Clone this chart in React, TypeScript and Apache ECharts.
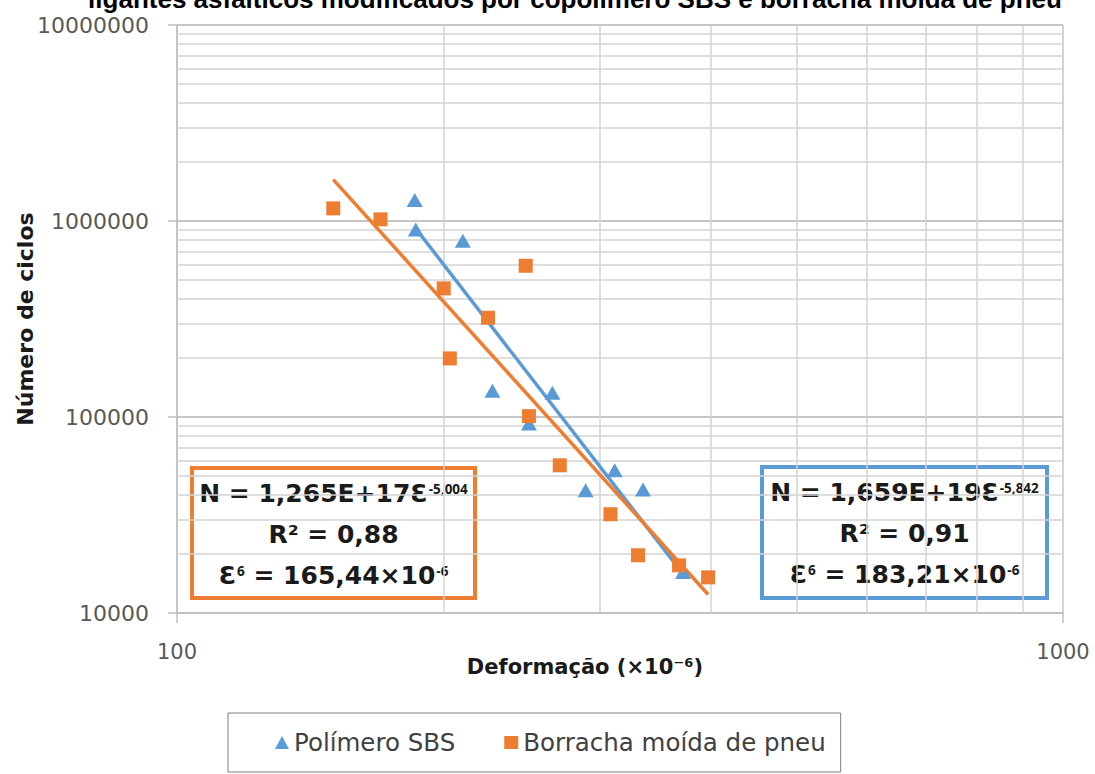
import React, { useEffect, useRef } from "react";
import * as echarts from "echarts";

// Fatigue test results: strain (×10⁻⁶) vs. number of cycles to failure
const SBS_STRAIN = [185.5, 186.0, 210.2, 227.0, 265.3, 249.6, 289.2, 311.9, 335.7, 372.5];
const SBS_CYCLES = [1279000, 906000, 792000, 136000, 133000, 92700, 42300, 53500, 42700, 16200];

const RUBBER_STRAIN = [150.1, 169.7, 247.5, 200.0, 224.4, 203.2, 249.6, 270.4, 308.5, 331.4, 368.7, 397.6];
const RUBBER_CYCLES = [1160000, 1020000, 591000, 453000, 321000, 199000, 101000, 56700, 31900, 19700, 17500, 15200];

// Power-law fits N = a·Ɛ^b, R² and strain at 10⁶ cycles
const SBS_FIT = { a: 1.659e19, b: -5.842, r2: 0.91, eps6: 183.21 };
const RUBBER_FIT = { a: 1.265e17, b: -5.004, r2: 0.88, eps6: 165.44 };

// Axis ranges and minor grid values
const X_RANGE = [100, 1000];
const Y_RANGE = [10000, 10000000];
const X_MINOR = [200, 300, 400, 500, 600, 700, 800, 900];
const Y_MINOR = [
  20000, 30000, 40000, 50000, 60000, 70000, 80000, 90000,
  200000, 300000, 400000, 500000, 600000, 700000, 800000, 900000,
  2000000, 3000000, 4000000, 5000000, 6000000, 7000000, 8000000, 9000000,
];

const SERIES_NAMES = ["Polímero SBS", "Borracha moída de pneu"];
const TITLE = "ligantes asfálticos modificados por copolímero SBS e borracha moída de pneu";

const BLUE = "#5B9BD5";
const ORANGE = "#ED7D31";
const LABEL_FONT = "DejaVu Sans";

const pairs = (xs: number[], ys: number[]) => xs.map((x, i) => [x, ys[i]]);

// Fit line spans the measured strain range of each binder
const fitLine = (xs: number[], fit: { a: number; b: number }) => {
  const lo = Math.min(...xs);
  const hi = Math.max(...xs);
  return [lo, hi].map((x) => [x, fit.a * Math.pow(x, fit.b)]);
};

const dec = (v: number, d: number) => v.toFixed(d).replace(".", ",");

const equationText = (fit: { a: number; b: number; r2: number; eps6: number }) => {
  const exp = Math.floor(Math.log10(fit.a));
  const mant = fit.a / Math.pow(10, exp);
  return [
    `{b|N = ${dec(mant, 3)}E+${exp}Ɛ}{s|${dec(fit.b, 3)}}`,
    `{b|R² = ${dec(fit.r2, 2)}}`,
    `{b|Ɛ}{s|6}{b| = ${dec(fit.eps6, 2)}×10}{s|-6}`,
  ].join("\n");
};

const richStyles = {
  b: { fontSize: 25, fontWeight: "bold", fontFamily: LABEL_FONT, fill: "#1a1a1a", lineHeight: 41 },
  s: {
    fontSize: 13.5,
    fontWeight: "bold",
    fontFamily: "Open Sans",
    fill: "#1a1a1a",
    verticalAlign: "top",
    padding: [9, 0, 0, 1],
  },
};

const equationBox = (x: number, y: number, w: number, h: number, color: string, text: string) => ({
  type: "group",
  x,
  y,
  z: 20,
  children: [
    {
      type: "rect",
      shape: { x: 0, y: 0, width: w, height: h },
      style: { fill: "#ffffff", stroke: color, lineWidth: 4 },
    },
    {
      type: "text",
      x: w / 2,
      y: h / 2 + 1,
      style: {
        text,
        rich: richStyles,
        align: "center",
        verticalAlign: "middle",
      },
    },
  ],
});

export default function App() {
  const ref = useRef<HTMLDivElement>(null);

  useEffect(() => {
    if (!ref.current) return;
    const chart = echarts.init(ref.current, undefined, { renderer: "svg" });

    const option = {
      animation: false,
      backgroundColor: "#ffffff",
      grid: {
        left: 177,
        right: 32,
        top: 25,
        bottom: 161,
        containLabel: false,
        outerBoundsMode: "none",
      },
      xAxis: {
        type: "log",
        logBase: 10,
        min: X_RANGE[0],
        max: X_RANGE[1],
        axisLine: { show: true, lineStyle: { color: "#bfbfbf", width: 1.5 } },
        axisTick: { show: true, length: 10, lineStyle: { color: "#bfbfbf", width: 1.5 } },
        axisLabel: {
          margin: 28,
          fontSize: 21,
          color: "#595959",
          fontFamily: LABEL_FONT,
          formatter: (v: number) => String(Math.round(v)),
        },
        splitLine: { show: true, lineStyle: { color: "#c4c4c4", width: 1.5 } },
        name: "Deformação (×10⁻⁶)",
        nameLocation: "middle",
        nameGap: 43,
        nameMoveOverlap: false,
        nameTextStyle: {
          fontSize: 21,
          fontWeight: "bold",
          fontFamily: LABEL_FONT,
          color: "#1a1a1a",
          padding: [0, 70, 0, 0],
        },
      },
      yAxis: {
        type: "log",
        logBase: 10,
        min: Y_RANGE[0],
        max: Y_RANGE[1],
        axisLine: { show: true, lineStyle: { color: "#bfbfbf", width: 1.5 } },
        axisTick: { show: true, length: 9, lineStyle: { color: "#bfbfbf", width: 1.5 } },
        axisLabel: {
          margin: 28,
          fontSize: 22,
          color: "#595959",
          fontFamily: LABEL_FONT,
          formatter: (v: number) => String(Math.round(v)),
        },
        splitLine: { show: true, lineStyle: { color: "#b3b3b3", width: 1.5 } },
        name: "Número de ciclos",
        nameLocation: "middle",
        nameGap: 141,
        nameMoveOverlap: false,
        nameTextStyle: {
          fontSize: 22,
          fontWeight: "bold",
          fontFamily: LABEL_FONT,
          color: "#1a1a1a",
        },
      },
      legend: {
        data: [
          { name: SERIES_NAMES[0], icon: "triangle" },
          { name: SERIES_NAMES[1], icon: "rect" },
        ],
        left: 228,
        top: 713,
        orient: "horizontal",
        itemWidth: 14,
        itemHeight: 13,
        itemGap: 49,
        borderColor: "#7f7f7f",
        borderWidth: 1,
        padding: [17, 15, 17, 47],
        textStyle: { fontSize: 24.5, color: "#404040", fontFamily: LABEL_FONT },
      },
      graphic: [
        {
          type: "text",
          x: 575,
          y: 12,
          style: {
            text: TITLE,
            font: 'bold 26px "Liberation Sans"',
            fill: "#000000",
            align: "center",
            verticalAlign: "bottom",
          },
        },
        equationBox(192, 468, 283, 130, ORANGE, equationText(RUBBER_FIT)),
        equationBox(762, 467, 285, 131, BLUE, equationText(SBS_FIT)),
      ],
      series: [
        {
          name: "grade",
          type: "scatter",
          data: [],
          z: 1,
          silent: true,
          markLine: {
            silent: true,
            z: 1,
            symbol: ["none", "none"],
            label: { show: false },
            lineStyle: { color: "#d3d3d3", width: 1.5, type: "solid" },
            data: [
              ...X_MINOR.map((v) => ({ xAxis: v })),
              ...Y_MINOR.map((v) => ({ yAxis: v })),
            ],
          },
        },
        {
          name: "fit-sbs",
          type: "line",
          data: fitLine(SBS_STRAIN, SBS_FIT),
          showSymbol: false,
          symbol: "none",
          z: 3,
          lineStyle: { color: BLUE, width: 3.5 },
          itemStyle: { color: BLUE },
        },
        {
          name: "fit-rubber",
          type: "line",
          data: fitLine(RUBBER_STRAIN, RUBBER_FIT),
          showSymbol: false,
          symbol: "none",
          z: 3,
          lineStyle: { color: ORANGE, width: 3.5 },
          itemStyle: { color: ORANGE },
        },
        {
          name: SERIES_NAMES[0],
          type: "scatter",
          symbol: "triangle",
          symbolSize: [16, 14],
          z: 4,
          itemStyle: { color: BLUE, opacity: 1 },
          data: pairs(SBS_STRAIN, SBS_CYCLES),
        },
        {
          name: SERIES_NAMES[1],
          type: "scatter",
          symbol: "rect",
          symbolSize: 14,
          z: 5,
          itemStyle: { color: ORANGE, opacity: 1 },
          data: pairs(RUBBER_STRAIN, RUBBER_CYCLES),
        },
      ],
    };

    chart.setOption(option as any);
    return () => chart.dispose();
  }, []);

  return (
    <div
      ref={ref}
      style={{ position: "fixed", left: 0, top: 0, width: 1095, height: 774, background: "#fff" }}
    />
  );
}
